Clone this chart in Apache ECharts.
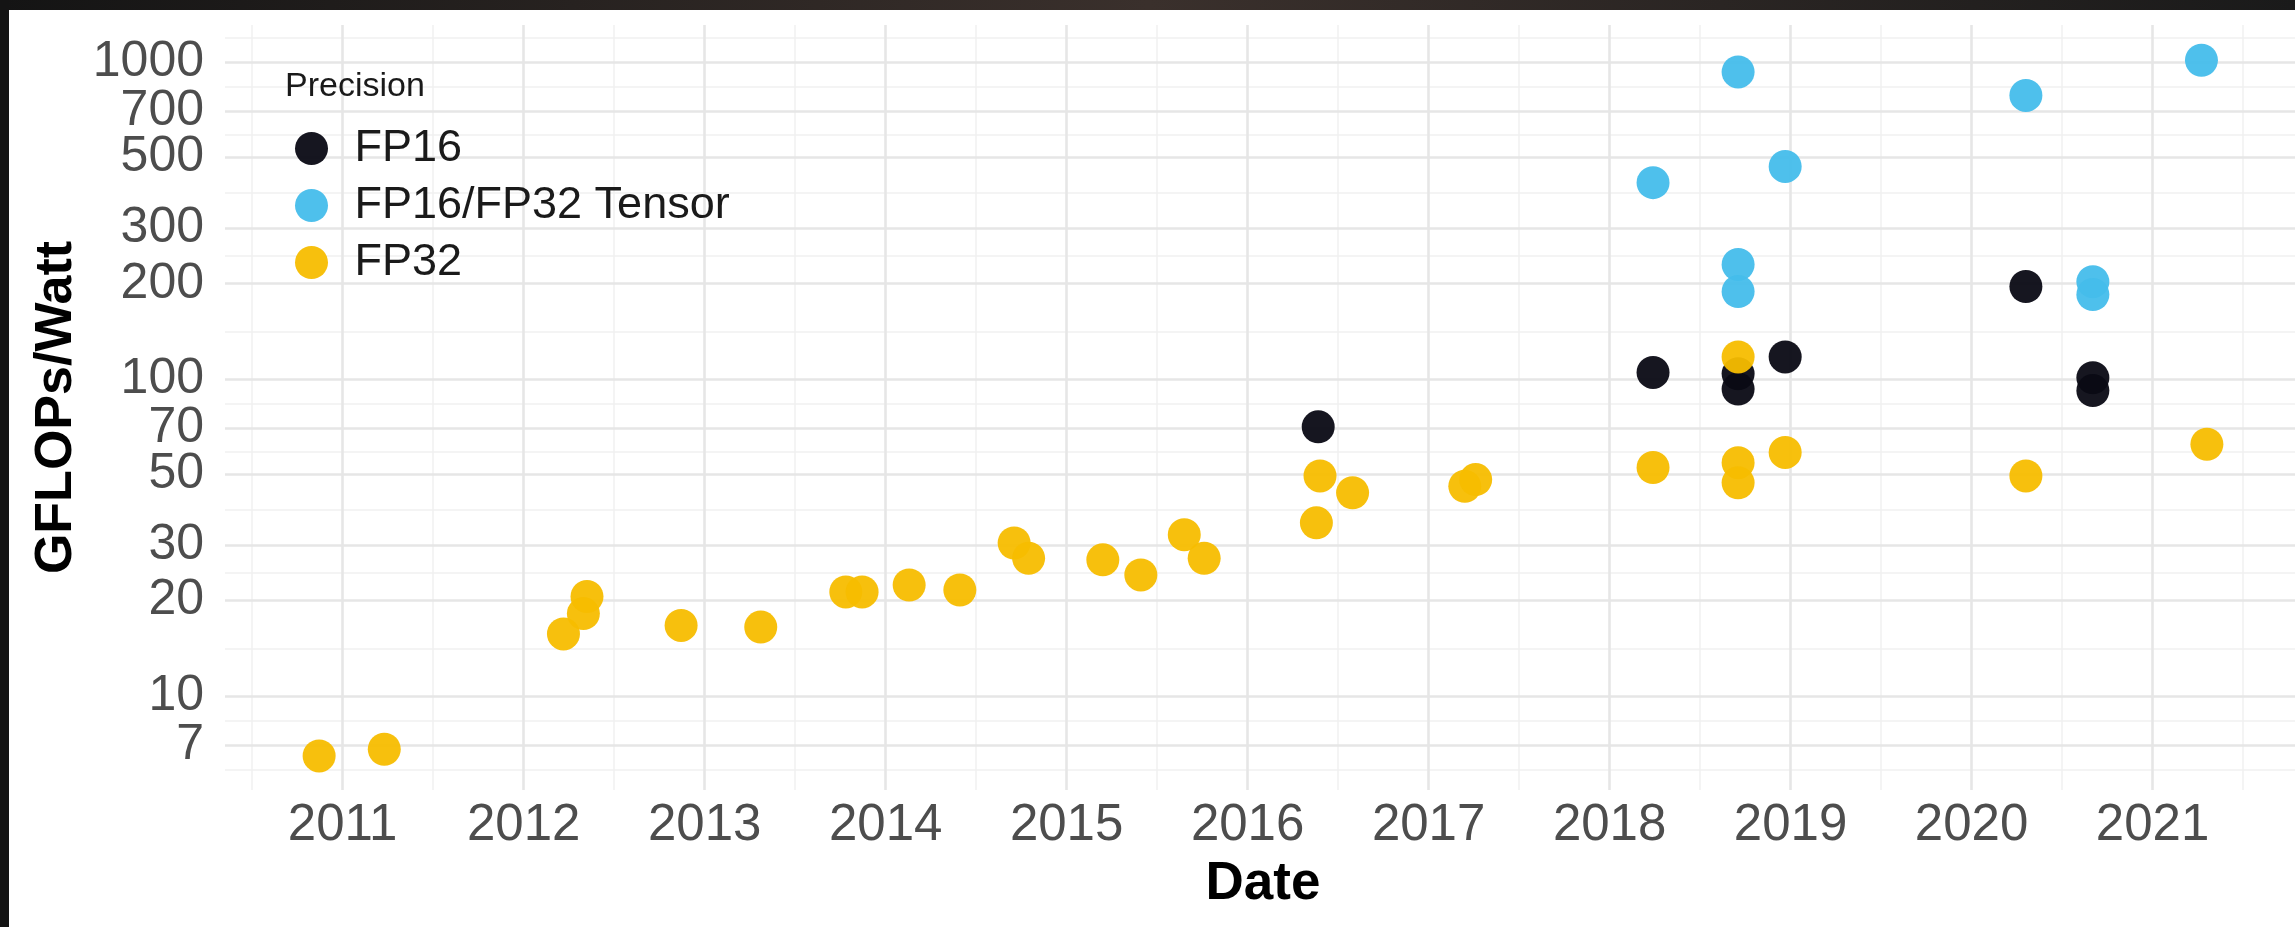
<!DOCTYPE html>
<html>
<head>
<meta charset="utf-8">
<title>GFLOPs/Watt by date</title>
<script src="https://cdn.jsdelivr.net/npm/echarts@6/dist/echarts.min.js"></script>
<style>
  html, body { margin: 0; padding: 0; background: #141414; }
  #root { width: 2295px; height: 927px; }
</style>
</head>
<body>
<div id="root"></div>
<script>
// dates as decimal years, values in GFLOPs/Watt
const fp16Dates = [2016.39, 2018.24, 2018.71, 2018.71, 2018.97, 2020.30, 2020.67, 2020.67];
const fp16Values = [70.7, 105, 104, 93, 117.5, 196, 101, 92];

const tensorDates = [2018.24, 2018.71, 2018.97, 2018.71, 2018.71, 2020.30, 2020.67, 2020.67, 2021.27];
const tensorValues = [417, 932, 469, 230, 189, 786, 203, 185, 1015];

const fp32Dates = [
  2010.87, 2011.23, 2012.22, 2012.33, 2012.35, 2012.87, 2013.31, 2013.78, 2013.87,
  2014.13, 2014.41, 2014.71, 2014.79, 2015.20, 2015.41, 2015.65, 2015.76, 2016.40,
  2016.38, 2016.58, 2017.20, 2017.26, 2018.24, 2018.71, 2018.71, 2018.97, 2020.30,
  2021.30, 2018.71
];
const fp32Values = [
  6.47, 6.79, 15.7, 18.2, 20.6, 16.7, 16.5, 21.3, 21.3,
  22.4, 21.6, 30.4, 27.2, 26.9, 24.1, 32.3, 27.2, 49.5,
  35.2, 43.8, 45.9, 48.2, 52.6, 54.5, 47.1, 58.7, 49.5,
  62.3, 117.5
];

const yearTicks = [2011, 2012, 2013, 2014, 2015, 2016, 2017, 2018, 2019, 2020, 2021];
const valueTicks = [7, 10, 20, 30, 50, 70, 100, 200, 300, 500, 700, 1000];

// minor grid lines sit half way between the breaks (log space for y)
const yearMinor = [2010.5].concat(yearTicks.map(y => y + 0.5));
const valueMinor = [];
const ext = [valueTicks[0] * valueTicks[0] / valueTicks[1]].concat(valueTicks, [valueTicks[11] * valueTicks[11] / valueTicks[10]]);
for (let i = 0; i < ext.length - 1; i++) valueMinor.push(Math.sqrt(ext[i] * ext[i + 1]));

// the breaks sit close together, so they are split over two stacked axes
// (every other one) to stop echarts hiding the crowded labels
const ticksA = valueTicks.filter((v, i) => i % 2 === 0);
const ticksB = valueTicks.filter((v, i) => i % 2 === 1);

const xMin = 2010.35, xMax = 2021.82;
const yMin = 5.05, yMax = 1311;

const FONT = "'Liberation Sans', Arial, Helvetica, sans-serif";
const colors = { fp16: '#0a0a14', tensor: '#45bdeb', fp32: '#f7bd00' };

const pairs = (xs, ys) => xs.map((x, i) => [x, ys[i]]);

const chart = echarts.init(document.getElementById('root'));

const majorLine = { show: true, lineStyle: { color: '#e6e6e6', width: 2.6 } };
const minorLine = { show: true, lineStyle: { color: '#f1f1f1', width: 1.5 } };

function valueAxis(ticks, extra) {
  return Object.assign({
    type: 'log', logBase: 10, min: yMin, max: yMax, position: 'left',
    axisLine: { show: false }, axisTick: { show: false, customValues: ticks },
    axisLabel: { customValues: ticks, formatter: v => String(Math.round(v)), fontSize: 50,
      color: '#4d4d4d', margin: 21, showMinLabel: true, showMaxLabel: true, hideOverlap: false },
    splitLine: majorLine
  }, extra);
}

chart.setOption({
  backgroundColor: '#ffffff',
  animation: false,
  textStyle: { fontFamily: FONT },
  grid: {
    left: 225, right: -6, top: 25, bottom: 137,
    outerBoundsMode: 'none'
  },
  title: {
    text: 'Precision',
    left: 285, top: 70, padding: 0,
    textStyle: { fontFamily: FONT, fontSize: 34, fontWeight: 'normal', color: '#1a1a1a' }
  },
  legend: {
    orient: 'vertical',
    left: 295, top: 126, padding: 0,
    itemWidth: 76, itemHeight: 33, itemGap: 12,
    icon: 'circle',
    symbolKeepAspect: true,
    textStyle: { fontFamily: FONT, fontSize: 45, color: '#1a1a1a' },
    data: ['FP16', 'FP16/FP32 Tensor', 'FP32']
  },
  xAxis: [{
    type: 'value', min: xMin, max: xMax,
    name: 'Date', nameLocation: 'middle', nameGap: 68,
    nameTextStyle: { fontFamily: FONT, fontSize: 53, fontWeight: 'bold', color: '#000' },
    axisLine: { show: false }, axisTick: { show: false, customValues: yearTicks },
    axisLabel: { customValues: yearTicks, formatter: v => String(v), fontSize: 51, color: '#4d4d4d', margin: 10,
      showMinLabel: true, showMaxLabel: true, hideOverlap: false },
    splitLine: majorLine
  }, {
    type: 'value', min: xMin, max: xMax, position: 'bottom',
    axisLine: { show: false }, axisTick: { show: false, customValues: yearMinor },
    axisLabel: { show: false, customValues: yearMinor },
    splitLine: minorLine, z: -1
  }],
  yAxis: [
    valueAxis(ticksA, {
      name: 'GFLOPs/Watt', nameLocation: 'middle', nameGap: 142, nameRotate: 90,
      nameTextStyle: { fontFamily: FONT, fontSize: 52, fontWeight: 'bold', color: '#000' }
    }),
    valueAxis(ticksB, {}),
    {
      type: 'log', logBase: 10, min: yMin, max: yMax, position: 'left',
      axisLine: { show: false }, axisTick: { show: false, customValues: valueMinor },
      axisLabel: { show: false, customValues: valueMinor },
      splitLine: minorLine, z: -1
    }
  ],
  series: [
    { name: 'FP16', type: 'scatter', data: pairs(fp16Dates, fp16Values), symbolSize: 33,
      itemStyle: { color: colors.fp16, opacity: 0.95 } },
    { name: 'FP16/FP32 Tensor', type: 'scatter', data: pairs(tensorDates, tensorValues), symbolSize: 33,
      itemStyle: { color: colors.tensor, opacity: 0.95 } },
    { name: 'FP32', type: 'scatter', data: pairs(fp32Dates, fp32Values), symbolSize: 33,
      itemStyle: { color: colors.fp32, opacity: 0.95 } }
  ],
  graphic: [
    { type: 'rect', left: 0, top: 0, z: 100, shape: { width: 2295, height: 10 },
      style: { fill: new echarts.graphic.LinearGradient(0, 0, 1, 0, [
        { offset: 0, color: '#141414' }, { offset: 0.5, color: '#3a302c' }, { offset: 1, color: '#1a1a1a' }]) } },
    { type: 'rect', left: 0, top: 0, z: 100, shape: { width: 9, height: 927 }, style: { fill: '#141414' } }
  ]
});
</script>
</body>
</html>
